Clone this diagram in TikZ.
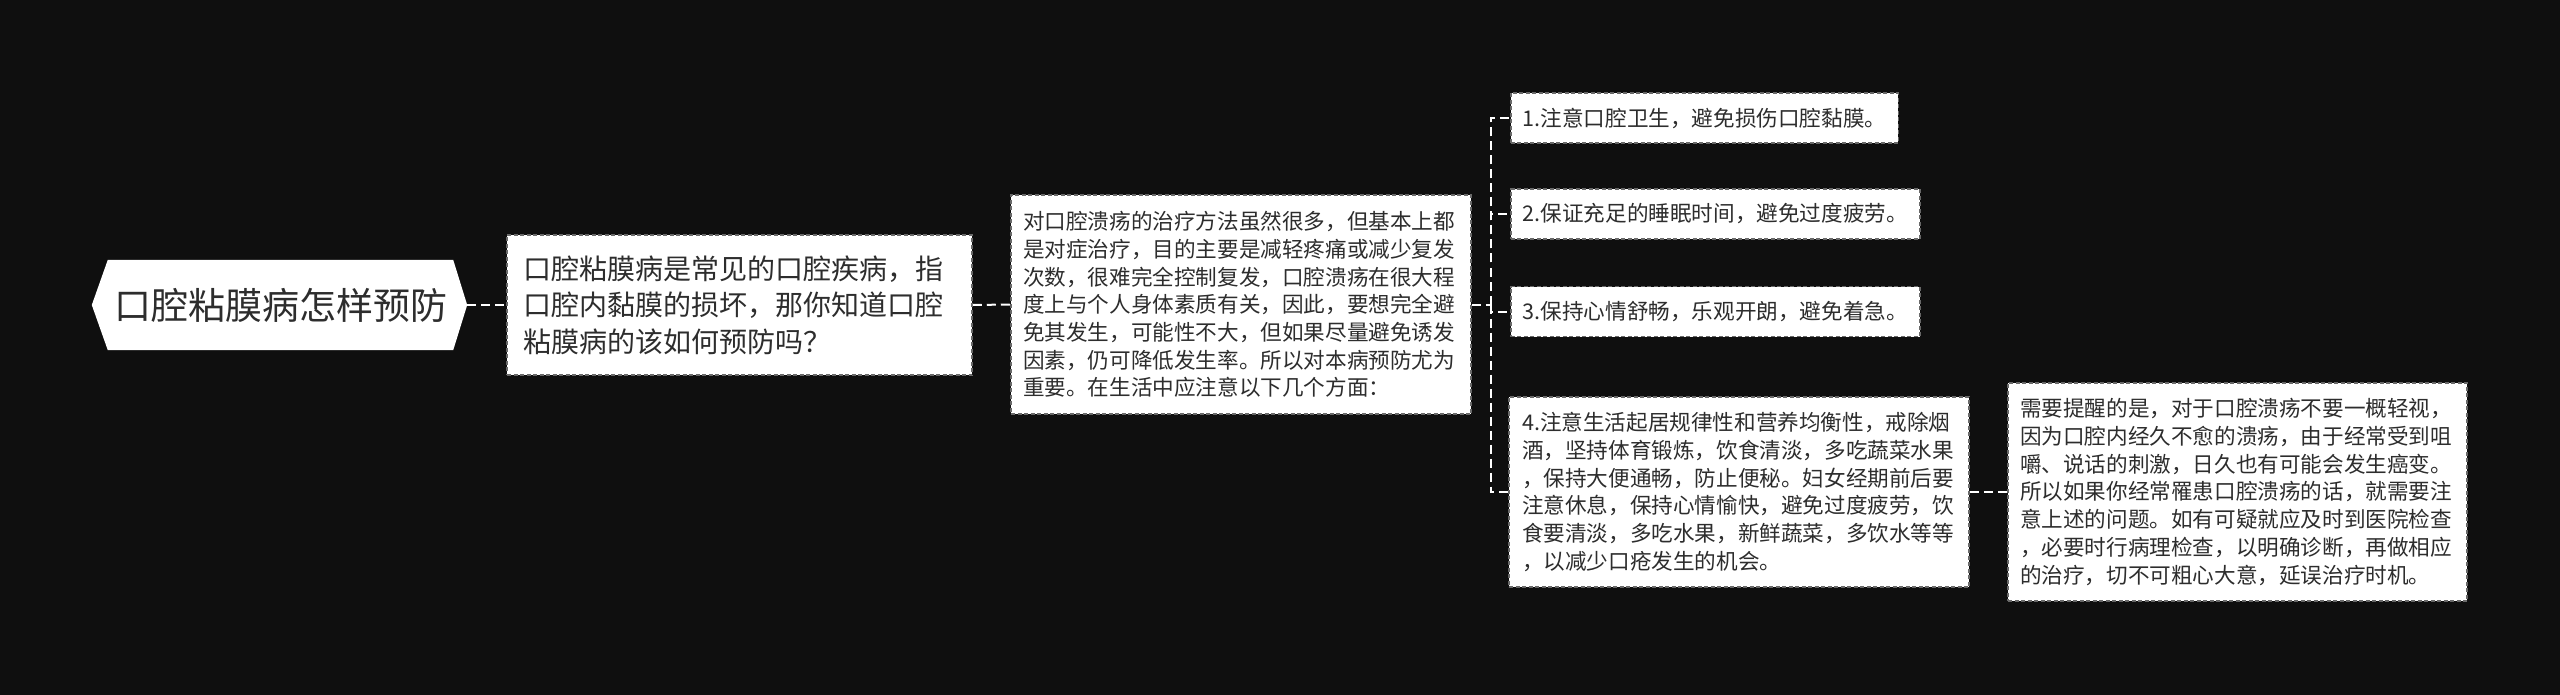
\documentclass[tikz,border=0pt]{standalone}
\usepackage{fontspec}
\setmainfont{Noto Sans CJK SC}
\usetikzlibrary{backgrounds,calc}
\definecolor{bg}{RGB}{15,15,15}
\definecolor{txt}{RGB}{45,45,45}
\definecolor{bd}{RGB}{105,105,105}
\begin{document}
\begin{tikzpicture}[x=1pt,y=-1pt,
  box/.style={draw=bd, line width=1.5pt, dash pattern=on 4pt off 2.5pt, fill=white, text=txt, align=left, inner sep=0pt},
  big/.style={font=\fontsize{28pt}{36.5pt}\selectfont},
  small/.style={font=\fontsize{21.6pt}{27.7pt}\selectfont},
  item/.style={box, small, anchor=west, inner xsep=12pt, minimum height=50pt},
  conn/.style={draw=white, line width=2pt, dash pattern=on 9pt off 5pt},
]
\begin{scope}[on background layer]
  \fill[bg] (0,0) rectangle (2560,695);
\end{scope}
\useasboundingbox (0,0) rectangle (2560,695);

% root
\node[text=txt, font=\fontsize{37pt}{44pt}\selectfont, minimum width=345pt, minimum height=90pt, inner sep=0pt] (root) at (280.5,305) {口腔粘膜病怎样预防};
\begin{scope}[on background layer]
  \fill[white] (root.north west) -- (root.north east) -- ($(root.east)+(14,0)$) -- (root.south east) -- (root.south west) -- ($(root.west)+(-16,0)$) -- cycle;
\end{scope}

% level 1
\node[box, big, minimum width=465pt, minimum height=140pt, text width=433pt] (b1) at (739.5,305)
{口腔粘膜病是常见的口腔疾病，指\\口腔内黏膜的损坏，那你知道口腔\\粘膜病的该如何预防吗？};

% level 2
\node[box, small, minimum width=460pt, minimum height=219pt, text width=436pt] (b2) at (1241,304.5)
{对口腔溃疡的治疗方法虽然很多，但基本上都\\是对症治疗，目的主要是减轻疼痛或减少复发\\次数，很难完全控制复发，口腔溃疡在很大程\\度上与个人身体素质有关，因此，要想完全避\\免其发生，可能性不大，但如果尽量避免诱发\\因素，仍可降低发生率。所以对本病预防尤为\\重要。在生活中应注意以下几个方面：};

% items
\node[item] (i1) at (1510,118) {1.注意口腔卫生，避免损伤口腔黏膜。};
\node[item] (i2) at (1510,214) {2.保证充足的睡眠时间，避免过度疲劳。};
\node[item] (i3) at (1510,311.5) {3.保持心情舒畅，乐观开朗，避免着急。};
\node[box, small, minimum width=460pt, minimum height=190pt, text width=434pt] (i4) at (1739,492)
{4.注意生活起居规律性和营养均衡性，戒除烟\\酒，坚持体育锻炼，饮食清淡，多吃蔬菜水果\\，保持大便通畅，防止便秘。妇女经期前后要\\注意休息，保持心情愉快，避免过度疲劳，饮\\食要清淡，多吃水果，新鲜蔬菜，多饮水等等\\，以减少口疮发生的机会。};

\node[box, small, minimum width=459pt, minimum height=218pt, text width=435pt] (i5) at (2237.5,492)
{需要提醒的是，对于口腔溃疡不要一概轻视，\\因为口腔内经久不愈的溃疡，由于经常受到咀\\嚼、说话的刺激，日久也有可能会发生癌变。\\所以如果你经常罹患口腔溃疡的话，就需要注\\意上述的问题。如有可疑就应及时到医院检查\\，必要时行病理检查，以明确诊断，再做相应\\的治疗，切不可粗心大意，延误治疗时机。};

% connectors
\draw[conn] ($(root.east)+(14,0)$) -- (b1.west);
\draw[conn] (b1.east) -- (b2.west);
\draw[conn] (b2.east) -- ++(19,0) coordinate (j);
\draw[conn] (j) |- (i1.west);
\draw[conn] (j) |- (i2.west);
\draw[conn] (j) |- (i3.west);
\draw[conn] (j) |- (i4.west);
\draw[conn] (i4.east) -- (i5.west);
\end{tikzpicture}
\end{document}
